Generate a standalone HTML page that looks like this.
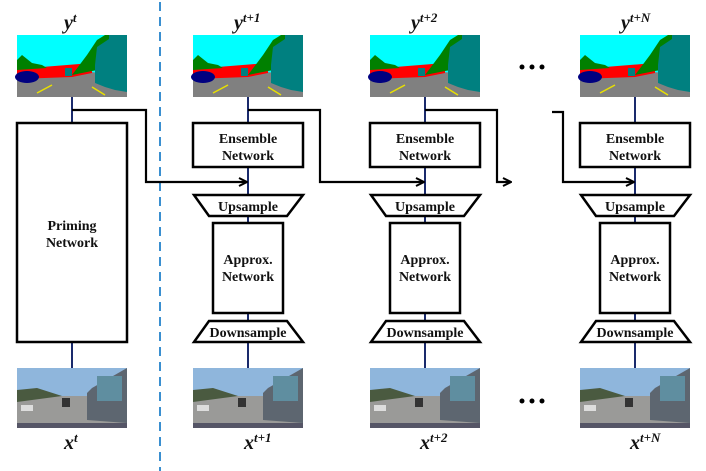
<!DOCTYPE html>
<html><head><meta charset="utf-8"><style>
body{margin:0;background:#fff}
svg{display:block}
text{font-family:"Liberation Serif",serif;font-weight:bold;fill:#111}
</style></head><body>
<svg width="706" height="471" viewBox="0 0 706 471" xmlns="http://www.w3.org/2000/svg">
<defs>
<g id="seg">
<rect x="0" y="0" width="110" height="62" fill="#00ffff"/>
<polygon points="0,40 30,38 60,36 110,40 110,62 0,62" fill="#808080"/>
<polygon points="0,34 0,44 55,42 75,38 75,28" fill="#ff0000"/>
<polygon points="0,25 5,20 15,28 25,30 30,33 0,35" fill="#008000"/>
<polygon points="55,40 70,20 80,5 88,0 110,0 110,30 75,36" fill="#008000"/>
<polygon points="78,30 80,12 92,4 92,0 110,0 110,57 98,55 88,52 78,48" fill="#008080"/>
<ellipse cx="10" cy="42" rx="12" ry="6" fill="#000080"/>
<rect x="48" y="33" width="7" height="8" fill="#008080"/>
<line x1="20" y1="58" x2="35" y2="50" stroke="#e8e000" stroke-width="1.5"/>
<line x1="75" y1="52" x2="88" y2="60" stroke="#e8e000" stroke-width="1.5"/>
</g>
<g id="cam">
<rect x="0" y="0" width="110" height="60" fill="#8fb6dc"/>
<polygon points="0,28 110,28 110,60 0,60" fill="#9a9a98"/>
<polygon points="0,22 20,20 45,28 0,34" fill="#4a5a40"/>
<polygon points="75,20 110,0 110,55 70,52 70,25" fill="#5d6670"/>
<rect x="80" y="8" width="25" height="25" fill="#5f8ea0"/>
<rect x="4" y="37" width="12" height="6" fill="#ddd"/>
<rect x="45" y="30" width="8" height="9" fill="#333"/>
<rect x="0" y="55" width="110" height="5" fill="#556"/>
</g>
<marker id="ar" markerWidth="10" markerHeight="10" refX="9" refY="5" orient="auto" markerUnits="userSpaceOnUse">
<path d="M1,1 L9,5 L1,9" fill="none" stroke="#000" stroke-width="2"/>
</marker>
<g id="col">
<rect x="193" y="123" width="110" height="44" fill="#fff" stroke="#000" stroke-width="2.5"/>
<text x="248" y="143" font-size="14" text-anchor="middle">Ensemble</text>
<text x="248" y="160" font-size="14" text-anchor="middle">Network</text>
<polygon points="194,195 303,195 287,216 209,216" fill="#fff" stroke="#000" stroke-width="2.5"/>
<text x="248" y="211" font-size="14" text-anchor="middle">Upsample</text>
<rect x="213" y="223" width="70" height="90" fill="#fff" stroke="#000" stroke-width="2.5"/>
<text x="248" y="264" font-size="14" text-anchor="middle">Approx.</text>
<text x="248" y="281" font-size="14" text-anchor="middle">Network</text>
<polygon points="209,321 287,321 303,342 194,342" fill="#fff" stroke="#000" stroke-width="2.5"/>
<text x="248" y="337" font-size="14" text-anchor="middle">Downsample</text>
</g>
</defs>
<line x1="160" y1="2" x2="160" y2="471" stroke="#3a8fd0" stroke-width="2" stroke-dasharray="9,6"/>

<g stroke="#1a2a6c" stroke-width="2">
<line x1="72" y1="97" x2="72" y2="368"/>
<line x1="248" y1="97" x2="248" y2="368"/>
<line x1="425" y1="97" x2="425" y2="368"/>
<line x1="635" y1="97" x2="635" y2="368"/>
</g>

<g fill="none" stroke="#000" stroke-width="2.2">
<polyline points="72,110 146,110 146,182 247,182" marker-end="url(#ar)"/>
<polyline points="248,110 320,110 320,182 424,182" marker-end="url(#ar)"/>
<polyline points="425,110 497,110 497,182 511,182" marker-end="url(#ar)"/>
<polyline points="552,112 563,112 563,182 634,182" marker-end="url(#ar)"/>
</g>

<use href="#seg" x="17" y="35"/>
<use href="#seg" x="193" y="35"/>
<use href="#seg" x="370" y="35"/>
<use href="#seg" x="580" y="35"/>
<use href="#cam" x="17" y="368"/>
<use href="#cam" x="193" y="368"/>
<use href="#cam" x="370" y="368"/>
<use href="#cam" x="580" y="368"/>

<rect x="17" y="123" width="110" height="219" fill="#fff" stroke="#000" stroke-width="2.5"/>
<text x="72" y="230" font-size="14" text-anchor="middle">Priming</text>
<text x="72" y="247" font-size="14" text-anchor="middle">Network</text>

<use href="#col" x="0"/>
<use href="#col" x="177"/>
<use href="#col" x="387"/>

<g fill="#000">
<circle cx="522" cy="67" r="2.5"/><circle cx="532" cy="67" r="2.5"/><circle cx="542" cy="67" r="2.5"/>
<circle cx="522" cy="401" r="2.5"/><circle cx="532" cy="401" r="2.5"/><circle cx="542" cy="401" r="2.5"/>
</g>

<g font-style="italic">
<text x="64" y="29" font-size="20">y<tspan font-size="13" dy="-7">t</tspan></text>
<text x="234" y="29" font-size="20">y<tspan font-size="13" dy="-7">t+1</tspan></text>
<text x="411" y="29" font-size="20">y<tspan font-size="13" dy="-7">t+2</tspan></text>
<text x="621" y="29" font-size="20">y<tspan font-size="13" dy="-7">t+N</tspan></text>
<text x="64" y="449" font-size="20">x<tspan font-size="13" dy="-7">t</tspan></text>
<text x="244" y="449" font-size="20">x<tspan font-size="13" dy="-7">t+1</tspan></text>
<text x="420" y="449" font-size="20">x<tspan font-size="13" dy="-7">t+2</tspan></text>
<text x="630" y="449" font-size="20">x<tspan font-size="13" dy="-7">t+N</tspan></text>
</g>
</svg>
</body></html>
